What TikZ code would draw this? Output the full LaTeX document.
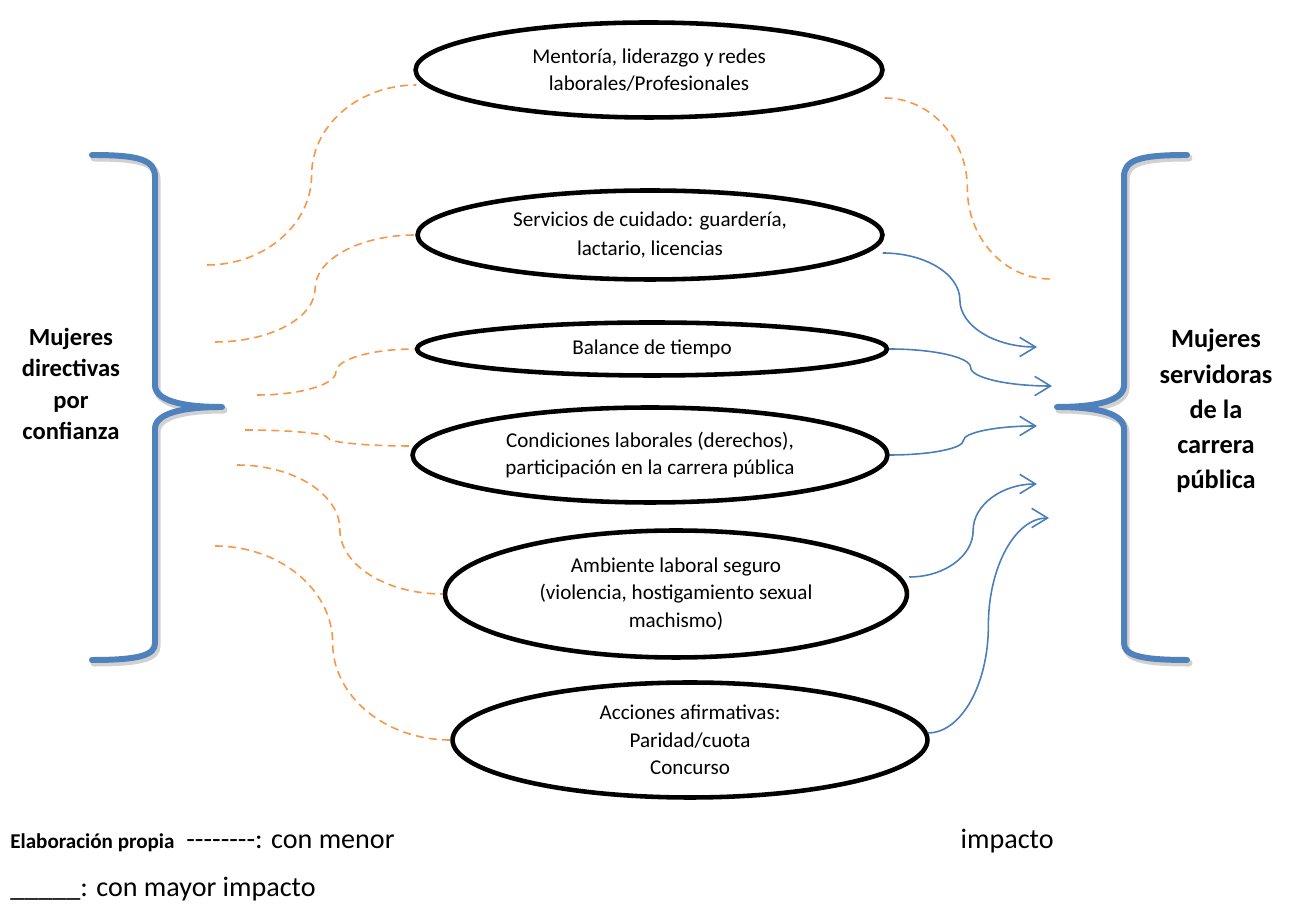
\documentclass[tikz,border=0pt]{standalone}
\usepackage{fontspec}
\setmainfont{Carlito}
\usetikzlibrary{arrows.meta,calc,shapes.geometric}
\definecolor{bracketblue}{HTML}{4F81BD}
\definecolor{linkblue}{HTML}{4A7EBB}
\definecolor{dashorange}{HTML}{F79646}
\newcommand\lbracepath{(92,750) .. controls (140,750) and (155,745) .. (155,728) -- (155,520) .. controls (155,505) and (180,498) .. (222,498) .. controls (180,498) and (155,491) .. (155,476) -- (155,262) .. controls (155,250) and (140,245) .. (92,245)}
\newcommand\rbracepath{(1187,750) .. controls (1139,750) and (1124,745) .. (1124,728) -- (1124,520) .. controls (1124,505) and (1099,498) .. (1057,498) .. controls (1099,498) and (1124,491) .. (1124,476) -- (1124,262) .. controls (1124,250) and (1139,245) .. (1187,245)}
\begin{document}
\begin{tikzpicture}[x=0.02cm,y=0.02cm,
  oval/.style={ellipse, draw=black, line width=2.6pt, inner sep=0pt, align=center, font=\fontsize{12}{15.5}\selectfont},
  scurve/.style={to path={let \p1=(\tikztostart), \p2=(\tikztotarget) in
      .. controls ({\x1+0.275*(\x2-\x1)},\y1) and ({0.5*(\x1+\x2)},{\y1+0.225*(\y2-\y1)}) .. ({0.5*(\x1+\x2)},{0.5*(\y1+\y2)})
      .. controls ({0.5*(\x1+\x2)},{\y2-0.225*(\y2-\y1)}) and ({\x2-0.275*(\x2-\x1)},\y2) .. (\tikztotarget)}},
  minor/.style={draw=dashorange, line width=0.9pt, dash pattern=on 4.5pt off 3pt, scurve},
  major/.style={draw=linkblue, line width=0.9pt, -{Straight Barb[length=9pt,width=11pt]}, scurve},
  brace/.style={draw=bracketblue, line width=3.4pt, line cap=round, line join=round},
  braceshadow/.style={draw=black, opacity=0.18, line width=4pt, line cap=round, line join=round},
  sidelabel/.style={align=center, inner sep=0pt},
  legend/.style={anchor=base west, inner sep=0pt, font=\fontsize{16}{19}\selectfont}]
\useasboundingbox (0,0) rectangle (1294,905);

% ellipses
\node[oval, minimum width=9.34cm, minimum height=1.9cm] (e1) at (649,835) {Mentoría, liderazgo y redes\\laborales/Profesionales};
\node[oval, minimum width=9.3cm, minimum height=1.78cm, font=\fontsize{12}{16.5}\selectfont] (e2) at (650,670) {Servicios de cuidado: guardería,\\lactario, licencias};
\node[oval, minimum width=9.4cm, minimum height=1.06cm] (e3) at (652,556) {Balance de tiempo};
\node[oval, minimum width=9.5cm, minimum height=1.9cm] (e4) at (650,450) {Condiciones laborales (derechos),\\participación en la carrera pública};
\node[oval, minimum width=9.24cm, minimum height=2.54cm] (e5) at (676,311) {Ambiente laboral seguro\\(violencia, hostigamiento sexual\\machismo)};
\node[oval, minimum width=9.5cm, minimum height=2.3cm] (e6) at (690,165) {Acciones afirmativas:\\Paridad/cuota\\Concurso};

% brackets
\draw[braceshadow, shift={(2,-3)}] \lbracepath;
\draw[braceshadow, shift={(2,-3)}] \rbracepath;
\draw[brace] \lbracepath;
\draw[brace] \rbracepath;

% side labels
\node[sidelabel, font=\bfseries\fontsize{14}{17.8}\selectfont] (lab1) at (71,521) {Mujeres\\directivas\\por\\confianza};
\node[sidelabel, font=\bfseries\fontsize{15}{20}\selectfont] (lab2) at (1216,494) {Mujeres\\servidoras\\de la\\carrera\\pública};

% free ends
\coordinate (l1) at (207,640);
\coordinate (l2) at (215,563);
\coordinate (l3) at (257,510);
\coordinate (l4) at (245,475);
\coordinate (l5) at (237,440);
\coordinate (l6) at (215,359);
\coordinate (r7) at (1050,626);
\coordinate (d1e) at ($(e1.west)+(3,-15)$);
\coordinate (d4e) at ($(e4.west)+(1,9)$);
\coordinate (d7s) at ($(e1.east)+(0,-28)$);

% dashed connectors (minor impact)
\draw[minor] (l1) to (d1e);
\draw[minor] (l2) to (e2.west);
\draw[minor] (l3) to (e3.west);
\draw[minor] (l4) to (d4e);
\draw[minor] (l5) to (e5.west);
\draw[minor] (l6) to (e6.west);
\draw[minor] (d7s) to (r7);

% arrow connectors (major impact)
\coordinate (a1s) at ($(e2.east)+(-2,-18)$);
\coordinate (a4s) at ($(e5.east)+(0,17)$);
\coordinate (a5s) at ($(e6.east)+(-2,7)$);
\coordinate (t1) at (1037,558);
\coordinate (t2) at (1052,519);
\coordinate (t3) at (1037,479);
\coordinate (t4) at (1037,421);
\coordinate (t5) at (1049,387);
\draw[major] (a1s) to (t1);
\draw[major] (e3.east) to (t2);
\draw[major] (e4.east) to (t3);
\draw[major] (a4s) to (t4);
\draw[major] (a5s) to (t5);

% legend
\node[anchor=base west, inner sep=0pt, font=\bfseries\fontsize{12}{14}\selectfont] (src) at (10,56) {Elaboración propia};
\node[legend] (leg1) at (186,56) {-{}-{}-{}-{}-{}-{}-{}-: con menor};
\node[legend, anchor=base east] (leg1b) at (1054,56) {impacto};
\node[legend] (leg2) at (10,8) {\_\_\_\_\_: con mayor impacto};
\end{tikzpicture}
\end{document}
